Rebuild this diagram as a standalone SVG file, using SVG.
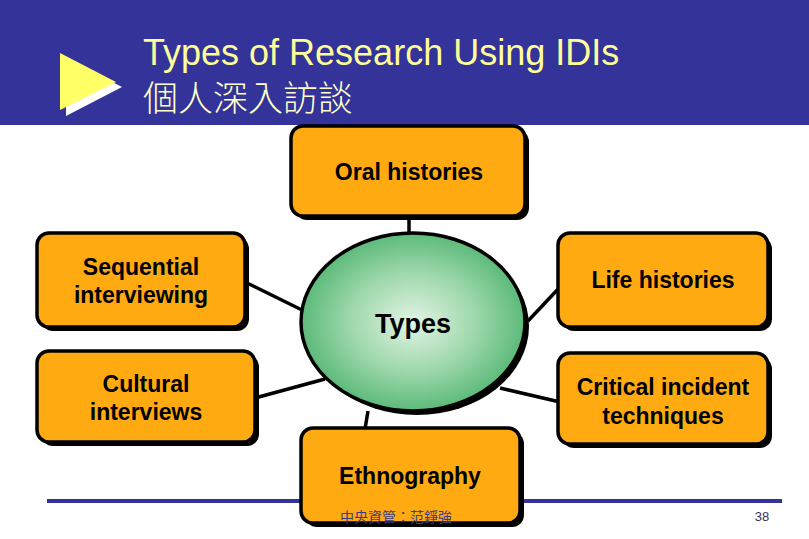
<svg xmlns="http://www.w3.org/2000/svg" width="809" height="539" viewBox="0 0 809 539">
<defs>
<radialGradient id="g" cx="50%" cy="50%" r="50%">
<stop offset="0" stop-color="#e2f4e5"/>
<stop offset="0.55" stop-color="#9fd8ac"/>
<stop offset="1" stop-color="#5cba7a"/>
</radialGradient>
<style>
.box{fill:#FFAA11;stroke:#000;stroke-width:3.5}
.sh{fill:#000}
.t{font-family:"Liberation Sans",Arial,sans-serif;font-weight:bold;font-size:23px;fill:#000;text-anchor:middle}
.c{stroke:#000;stroke-width:3.5;fill:none}
</style>
</defs>
<rect x="0" y="0" width="809" height="125" fill="#333399"/>
<polygon points="66,58 122,87 66,116" fill="#ffffff"/>
<polygon points="60,53 116,82 60,110" fill="#FFFF66"/>
<text x="143" y="65" font-family="Liberation Sans,Arial,sans-serif" font-size="36" fill="#FFFF99">Types of Research Using IDIs</text>
<text x="143" y="111" font-family="'Noto Sans CJK TC','Liberation Sans',sans-serif" font-size="35" font-weight="300" fill="#FFFFCC">個人深入訪談</text>
<rect x="47" y="499" width="735" height="4" fill="#333399"/>
<g id="connectors">
<line class="c" x1="409" y1="217" x2="409" y2="233"/>
<line class="c" x1="245" y1="282" x2="302" y2="310"/>
<line class="c" x1="255" y1="398" x2="325" y2="379"/>
<line class="c" x1="528" y1="321" x2="560" y2="287"/>
<line class="c" x1="500" y1="388" x2="560" y2="402"/>
<line class="c" x1="368" y1="411" x2="365" y2="429"/>
</g>
<g id="types">
<ellipse cx="417" cy="326" rx="112" ry="89" class="sh"/>
<ellipse cx="413" cy="322" rx="112" ry="89" fill="url(#g)" stroke="#000" stroke-width="3.5"/>
<text x="413" y="333" class="t" style="font-size:27px">Types</text>
</g>
<g id="oral">
<rect x="295" y="130" width="234" height="90" rx="12" class="sh"/>
<rect x="291" y="126" width="234" height="90" rx="12" class="box"/>
<text x="409" y="180" class="t">Oral histories</text>
</g>
<g id="sequential">
<rect x="41" y="237" width="208" height="94" rx="12" class="sh"/>
<rect x="37" y="233" width="208" height="94" rx="12" class="box"/>
<text x="141" y="275" class="t">Sequential</text>
<text x="141" y="303" class="t">interviewing</text>
</g>
<g id="cultural">
<rect x="41" y="355" width="218" height="91" rx="12" class="sh"/>
<rect x="37" y="351" width="218" height="91" rx="12" class="box"/>
<text x="146" y="392" class="t">Cultural</text>
<text x="146" y="420" class="t">interviews</text>
</g>
<g id="life">
<rect x="562" y="237" width="210" height="94" rx="12" class="sh"/>
<rect x="558" y="233" width="210" height="94" rx="12" class="box"/>
<text x="663" y="288" class="t">Life histories</text>
</g>
<g id="critical">
<rect x="562" y="357" width="210" height="91" rx="12" class="sh"/>
<rect x="558" y="353" width="210" height="91" rx="12" class="box"/>
<text x="663" y="395" class="t">Critical incident</text>
<text x="663" y="424" class="t">techniques</text>
</g>
<g id="ethnography">
<rect x="305" y="432" width="219" height="95" rx="12" class="sh"/>
<rect x="301" y="428" width="219" height="95" rx="12" class="box"/>
<text x="410" y="484" class="t">Ethnography</text>
</g>
<text x="340" y="522" font-family="'Noto Sans CJK TC',sans-serif" font-size="14" fill="#3a3a80">中央資管：范錚強</text>
<text x="762" y="521" font-family="'Liberation Sans Narrow','Liberation Sans',sans-serif" font-size="13" fill="#333355" text-anchor="middle">38</text>
</svg>
